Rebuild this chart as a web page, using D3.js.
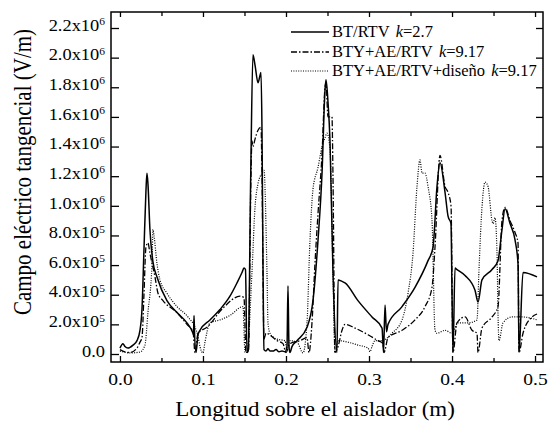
<!DOCTYPE html>
<html><head><meta charset="utf-8">
<script src="https://cdn.jsdelivr.net/npm/d3@7"></script>
<style>
html,body{margin:0;padding:0;background:#fff;}
text{font-family:"Liberation Serif","Times New Roman",serif;fill:#000;}
</style></head>
<body>
<svg id="c" width="550" height="424"></svg>
<script>
// ---- data (x in m, y in V/m) ----
const seriesNames = ["BT/RTV", "BTY+AE/RTV", "BTY+AE/RTV+diseño"];
const seriesK = ["2.7", "9.17", "9.17"];

const btX = [0.0,0.0036,0.006,0.0096,0.0157,0.0205,0.0241,0.0265,0.0289,0.0313,0.0325,0.0337,0.0361,0.0398,0.0446,0.0566,0.0687,0.0807,0.088,0.0886,0.0892,0.0898,0.0916,0.094,0.0964,0.1084,0.1205,0.1325,0.141,0.147,0.1494,0.1512,0.153,0.1545,0.1575,0.1602,0.1627,0.1663,0.1687,0.1699,0.1711,0.1723,0.1735,0.1759,0.1783,0.1807,0.1843,0.188,0.1916,0.1952,0.1988,0.2012,0.2024,0.2036,0.2048,0.2072,0.2133,0.2253,0.2325,0.2386,0.2434,0.247,0.2482,0.2506,0.253,0.2566,0.2614,0.2627,0.2675,0.2711,0.2867,0.3036,0.3157,0.3175,0.3193,0.3211,0.3229,0.3398,0.3554,0.3711,0.3771,0.3819,0.3855,0.3916,0.3952,0.3988,0.4,0.4012,0.4036,0.406,0.4157,0.4277,0.4313,0.4361,0.4482,0.4554,0.4602,0.4639,0.4699,0.4759,0.4795,0.4807,0.4855,0.5024];
const btY = [0.4e5,0.7e5,0.5e5,0.4e5,0.6e5,0.9e5,1.6e5,3.0e5,7.0e5,11.0e5,12.2e5,11.5e5,8.4e5,6.2e5,5.2e5,3.6e5,2.8e5,2.1e5,1.4e5,1.3e5,2.6e5,1.5e5,0.1e5,1.3e5,1.6e5,2.3e5,3.0e5,3.9e5,4.8e5,5.5e5,5.8e5,5.7e5,0.1e5,0.2e5,12e5,20.2e5,19.5e5,18.3e5,18.8e5,19.0e5,15e5,6e5,0.3e5,0.2e5,0.35e5,0.2e5,0.2e5,0.3e5,0.15e5,0.2e5,0.15e5,0.5e5,4.6e5,0.5e5,0.1e5,0.5e5,0.9e5,1.8e5,3.6e5,7.7e5,12.2e5,17.8e5,18.5e5,17e5,14.4e5,5.5e5,0.1e5,5.0e5,4.9e5,4.8e5,3.6e5,2.5e5,1.75e5,0.1e5,3.3e5,1.5e5,2.0e5,3.2e5,4.5e5,6.3e5,7.2e5,11.3e5,12.9e5,10.9e5,9.3e5,8.8e5,4e5,0.1e5,5.8e5,5.7e5,5.3e5,4.3e5,3.5e5,5.0e5,5.7e5,6.3e5,8.4e5,9.8e5,8.8e5,7.7e5,6.1e5,0.1e5,5.5e5,5.2e5];

const btyX = [0.0,0.006,0.012,0.0205,0.0241,0.0265,0.0289,0.0313,0.0337,0.0361,0.0422,0.0458,0.0518,0.0687,0.0807,0.088,0.0904,0.094,0.1048,0.1241,0.1446,0.1494,0.1518,0.1548,0.1578,0.159,0.1602,0.1627,0.1663,0.1699,0.1711,0.1735,0.1759,0.1892,0.1964,0.2,0.2048,0.2169,0.2253,0.2277,0.2313,0.2349,0.2386,0.2434,0.247,0.2482,0.2506,0.2554,0.2566,0.259,0.2627,0.2675,0.2711,0.2831,0.2988,0.3108,0.3169,0.3181,0.3229,0.3398,0.3554,0.3675,0.3759,0.3795,0.3855,0.3916,0.3952,0.3988,0.4012,0.406,0.4157,0.4241,0.4301,0.4313,0.4361,0.4482,0.4554,0.4602,0.4639,0.4699,0.4759,0.4795,0.4807,0.4855,0.4964,0.5024];
const btyY = [0.3e5,0.15e5,0.1e5,0.4e5,0.8e5,1.1e5,4e5,7.2e5,7.5e5,6.8e5,5.2e5,4.1e5,3.6e5,2.8e5,2.0e5,1.5e5,0.1e5,1.4e5,1.8e5,3.1e5,3.9e5,3.8e5,0.1e5,0.2e5,12e5,14.4e5,14.0e5,14.5e5,15.1e5,15.3e5,12e5,1e5,1.4e5,0.9e5,0.7e5,0.1e5,0.7e5,0.9e5,1.1e5,0.1e5,2.1e5,6.1e5,9.5e5,13.5e5,18.0e5,18.3e5,16e5,16.0e5,12e5,0.1e5,0.5e5,1.6e5,2.0e5,1.75e5,1.3e5,0.9e5,0.7e5,0.1e5,1.1e5,1.6e5,2.3e5,3.2e5,4.5e5,7.2e5,13.4e5,11.3e5,10.9e5,10e5,0.1e5,2.1e5,2.5e5,1.6e5,1.4e5,0.1e5,1.75e5,2.5e5,3.2e5,9.0e5,9.9e5,9.0e5,8.2e5,7.5e5,0.1e5,1.4e5,2.5e5,2.7e5];

const disX = [0.0,0.012,0.0241,0.0301,0.0337,0.0386,0.0398,0.041,0.0446,0.0482,0.0566,0.0687,0.0819,0.0904,0.094,0.0964,0.1,0.1024,0.1084,0.1205,0.1325,0.1482,0.1506,0.153,0.159,0.1627,0.1663,0.1711,0.1735,0.1771,0.1783,0.1807,0.1892,0.1988,0.2012,0.2048,0.2133,0.2205,0.2253,0.2289,0.2325,0.2386,0.2434,0.247,0.2494,0.253,0.2566,0.259,0.2627,0.2747,0.2867,0.2988,0.3012,0.3036,0.3072,0.3157,0.3277,0.3398,0.347,0.353,0.3578,0.3614,0.3639,0.3675,0.3711,0.3759,0.3795,0.3819,0.3916,0.4,0.4072,0.4193,0.4301,0.4325,0.4361,0.4398,0.4434,0.4482,0.4494,0.4518,0.4542,0.4554,0.4566,0.4614,0.4723,0.4843,0.4964,0.5024];
const disY = [0.2e5,0.07e5,0.13e5,0.6e5,2.8e5,6.1e5,8.4e5,8.0e5,6.1e5,5.0e5,4.1e5,3.2e5,2.5e5,1.8e5,1.2e5,0.5e5,0.07e5,0.8e5,2.1e5,2.3e5,2.6e5,3.2e5,0.1e5,0.1e5,5.5e5,9.9e5,11.5e5,12.2e5,12.4e5,5.5e5,2.1e5,1.4e5,1.0e5,0.9e5,0.3e5,0.9e5,0.8e5,0.07e5,2.1e5,7.7e5,11.1e5,12.6e5,14.0e5,14.6e5,14.9e5,13.8e5,5.5e5,0.1e5,0.9e5,0.8e5,0.6e5,0.4e5,0.15e5,0.5e5,0.9e5,0.9e5,1.4e5,2.3e5,4.1e5,6.8e5,11.3e5,13.1e5,12.2e5,12.2e5,11.3e5,9.0e5,1.6e5,1.4e5,1.6e5,1.4e5,2.1e5,2.1e5,2.3e5,5.7e5,9.9e5,11.6e5,11.3e5,9.0e5,8.8e5,9.2e5,6.8e5,2.7e5,0.9e5,2.1e5,2.5e5,2.5e5,2.4e5,2.3e5];

const xTickValues = [0.0, 0.1, 0.2, 0.3, 0.4, 0.5];
const xTickLabels = ["0.0", "0.1", "0.2", "0.3", "0.4", "0.5"];
const xMinorValues = [0.05, 0.15, 0.25, 0.35, 0.45];
const yTickValues = [0, 2e5, 4e5, 6e5, 8e5, 1e6, 1.2e6, 1.4e6, 1.6e6, 1.8e6, 2.0e6, 2.2e6];
const yTickLabels = ["0.0","2.0x10^5","4.0x10^5","6.0x10^5","8.0x10^5","1.0x10^6","1.2x10^6","1.4x10^6","1.6x10^6","1.8x10^6","2.0x10^6","2.2x10^6"];
const xTitle = "Longitud sobre el aislador (m)";
const yTitle = "Campo eléctrico tangencial (V/m)";

// ---- layout ----
const L = 111, R = 543, T = 12, B = 362;
const FONT = "Liberation Serif, Times New Roman, serif";
const SX = 1.15; // horizontal stretch of the original figure's text
const svg = d3.select("#c");
const x = d3.scaleLinear().domain([-0.0108, 0.5096]).range([L, R]);
const y = d3.scaleLinear().domain([-0.054e6, 2.308e6]).range([B, T]);

const series = [
  {xs: btX, ys: btY, dash: null, w: 1.5},
  {xs: btyX, ys: btyY, dash: "6,2,1.5,2", w: 1.3},
  {xs: disX, ys: disY, dash: "1,1.4", w: 1.2}
];

svg.append("clipPath").attr("id","clip").append("rect")
  .attr("x", L).attr("y", T).attr("width", R-L).attr("height", B-T);

const line = d3.line().curve(d3.curveMonotoneX).x(d => x(d[0])).y(d => y(d[1]));
const g = svg.append("g").attr("clip-path","url(#clip)");
series.forEach(s => {
  const pts = s.xs.map((v,i) => [v, s.ys[i]]);
  g.append("path").datum(pts).attr("d", line)
    .attr("fill","none").attr("stroke","#000").attr("stroke-width", s.w)
    .attr("stroke-linejoin","round")
    .attr("stroke-dasharray", s.dash);
});

// axes
function styleAxis(sel){
  sel.attr("font-family", FONT);
  sel.select(".domain").remove();
  sel.selectAll("line").attr("stroke","#000").attr("stroke-width",1.3);
}
const fmtX = (d) => xTickLabels[xTickValues.indexOf(d)];
svg.append("g").attr("transform",`translate(0,${B})`)
  .call(d3.axisBottom(x).tickValues(xTickValues).tickSize(-6).tickFormat(fmtX))
  .call(styleAxis)
  .call(s => s.selectAll("text").attr("font-size",17).attr("fill","#000")
     .attr("y",0).attr("dy",0).attr("transform",`translate(0,23) scale(${SX},1)`));
svg.append("g").attr("transform",`translate(0,${B})`)
  .call(d3.axisBottom(x).tickValues(xMinorValues).tickSize(-4).tickFormat(""))
  .call(styleAxis);
svg.append("g").attr("transform",`translate(0,${T})`)
  .call(d3.axisTop(x).tickValues(xTickValues).tickSize(-5).tickFormat(""))
  .call(styleAxis);
svg.append("g").attr("transform",`translate(0,${T})`)
  .call(d3.axisTop(x).tickValues(xMinorValues).tickSize(-4).tickFormat(""))
  .call(styleAxis);
svg.append("g").attr("transform",`translate(${R},0)`)
  .call(d3.axisRight(y).tickValues(yTickValues).tickSize(-7).tickFormat(""))
  .call(styleAxis);
const ya = svg.append("g").attr("transform",`translate(${L},0)`)
  .call(d3.axisLeft(y).tickValues(yTickValues).tickSize(-8).tickFormat(""))
  .call(styleAxis);
ya.selectAll(".tick").each(function(d){
  const lab = yTickLabels[yTickValues.indexOf(d)];
  const parts = lab.split("^");
  const t = d3.select(this).select("text")
    .attr("font-size",16).attr("x",0).attr("dy","0.2em").attr("text-anchor","end").attr("fill","#000")
    .attr("transform",`translate(-6,-1) scale(${SX},1)`);
  t.text(null);
  t.append("tspan").text(parts[0]);
  if (parts[1]) t.append("tspan").attr("dy","-0.55em").attr("font-size",10).text(parts[1]);
});

// frame
svg.append("rect").attr("x",L).attr("y",T).attr("width",R-L).attr("height",B-T)
  .attr("fill","none").attr("stroke","#000").attr("stroke-width",1.5);

// titles
svg.append("text").attr("transform",`translate(315,416) scale(1.15,1)`).attr("text-anchor","middle")
  .attr("font-size",20).text(xTitle);
svg.append("text").attr("transform","translate(31,172) rotate(-90) scale(1,1.15)").attr("text-anchor","middle")
  .attr("font-size",21).text(yTitle);

// legend
const legY = [32, 52, 71];
series.forEach((s,i) => {
  svg.append("line").attr("x1",291).attr("x2",329).attr("y1",legY[i]).attr("y2",legY[i])
    .attr("stroke","#000").attr("stroke-width", s.w).attr("stroke-dasharray", s.dash);
  const t = svg.append("text").attr("transform",`translate(332,${legY[i]+5}) scale(1.03,1)`).attr("font-size",16);
  t.append("tspan").text(seriesNames[i]);
  t.append("tspan").attr("dx",6).attr("font-style","italic").text("k");
  t.append("tspan").text("=" + seriesK[i]);
});
</script>
</body></html>
